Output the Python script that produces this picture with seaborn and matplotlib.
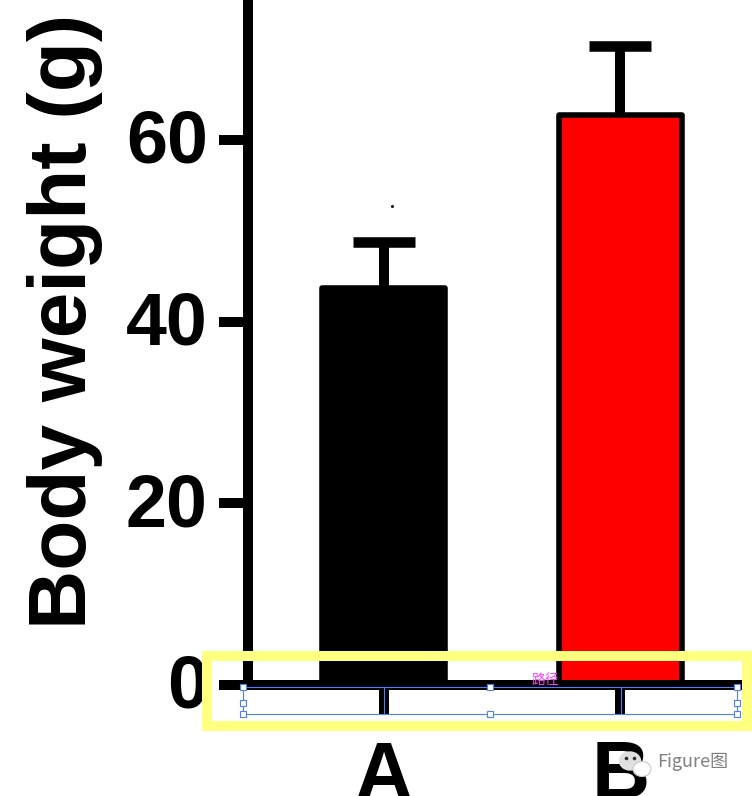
import matplotlib
matplotlib.use("Agg")
import matplotlib.pyplot as plt
import seaborn as sns
from matplotlib.patches import Rectangle, Ellipse
from matplotlib.transforms import ScaledTranslation

# Data
groups = ["A", "B"]
weights = [43.7, 62.7]
errors = [5.1, 7.6]
bar_colors = ["#000000", "#ff0000"]
y_ticks = [0, 20, 40, 60]

sns.set_style("ticks")
plt.rcParams["font.family"] = ["Liberation Sans", "Noto Sans CJK SC", "DejaVu Sans"]

W, H = 752, 796
fig = plt.figure(figsize=(W / 100, H / 100), dpi=100, facecolor="white")
ax = fig.add_axes([248 / W, (H - 685) / H, (737 - 248) / W, 685 / H])

sns.barplot(x=groups, y=weights, hue=groups, palette=bar_colors, width=0.522,
            saturation=1, edgecolor="black", linewidth=4.0, legend=False, ax=ax)
for bar in ax.patches:
    bar.set_joinstyle("round")

# upper error only, so hide the lower cap
eb = ax.errorbar(range(len(groups)), weights, yerr=[[0, 0], errors], fmt="none", ecolor="black",
                 elinewidth=7.2, capsize=22, capthick=7.6, zorder=1)
eb[1][0].set_visible(False)

ax.set_xlim(-0.573, 1.493)
ax.set_ylim(0, 75.4)
ax.set_yticks(y_ticks)
ax.tick_params(axis="y", length=21, width=7.2, pad=8, labelsize=53, color="black", labelcolor="black")
ax.tick_params(axis="x", length=21, width=7.2, pad=18, labelsize=58, color="black", labelcolor="black")
for lab in ax.get_xticklabels() + ax.get_yticklabels():
    lab.set_fontweight("bold")
# y tick labels sit a little above the tick in the original
shift_up = ScaledTranslation(0, 3 / 72, fig.dpi_scale_trans)
for lab in ax.get_yticklabels():
    lab.set_transform(lab.get_transform() + shift_up)
for s in ["top", "right"]:
    ax.spines[s].set_visible(False)
for s in ["left", "bottom"]:
    ax.spines[s].set_linewidth(7.2)
    ax.spines[s].set_color("black")

ax.set_ylabel("Body weight (g)", fontsize=59, fontweight="bold", va="center", color="black")
ax.yaxis.set_label_coords((65 - 248) / 489, (685 - 321) / 685)

# Overlay in pixel coordinates: editor selection box, highlight frame, watermark
ov = fig.add_axes([0, 0, 1, 1], zorder=5)
ov.set_xlim(0, W)
ov.set_ylim(H, 0)
ov.axis("off")
ov.patch.set_alpha(0)

ov.add_patch(Rectangle((207, 656), 540, 70, fill=False, edgecolor="#ffff80", linewidth=7.2))

blue = "#4d7fff"
ov.add_patch(Rectangle((243, 687), 494, 27, fill=False, edgecolor=blue, linewidth=0.8))
for x in [384, 621]:
    ov.plot([x, x], [687, 714], color=blue, linewidth=0.8)
hx = [243, 490, 737, 243, 737, 243, 490, 737]
hy = [687, 687, 687, 703, 703, 714, 714, 714]
ov.plot(hx, hy, ls="none", marker="s", ms=3.8, mfc="white", mec=blue, mew=0.8)

ov.text(545, 680, "路径", color="#ff40ff", fontsize=10, ha="center", va="center")
ov.plot([392], [206], marker="s", ms=1, color="black")

ov.add_patch(Ellipse((630, 761), 21, 18, color="#e0e0e0", zorder=3))
ov.add_patch(Ellipse((642, 769), 18, 15, facecolor="white", edgecolor="#c8c8c8", linewidth=0.8, zorder=4))
ov.plot([626, 634], [758, 758], ls="none", marker="o", ms=1.6, color="#333333", zorder=5)
ov.text(657, 762, "Figure图", color="#808080", fontsize=13, ha="left", va="center",
        family=["Noto Sans CJK SC", "DejaVu Sans"])

fig.savefig("out.png", dpi=100)
